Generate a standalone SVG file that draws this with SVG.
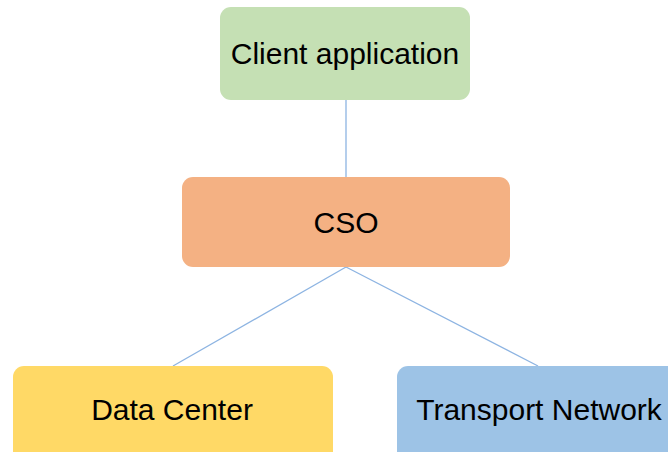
<svg xmlns="http://www.w3.org/2000/svg" width="668" height="452" viewBox="0 0 668 452">
<style>
.lbl{font-family:"Liberation Sans",Arial,sans-serif;font-size:30px;fill:#000;text-anchor:middle}
.edge{stroke:#8db4e2;stroke-width:1.3;fill:none}
</style>
<rect width="668" height="452" fill="#fff"/>
<g id="connectors">
<line class="edge" x1="346" y1="100" x2="346" y2="177"/>
<line class="edge" x1="346" y1="267" x2="173" y2="366"/>
<line class="edge" x1="346" y1="267" x2="538" y2="366"/>
</g>
<g id="client">
<rect x="220" y="7" width="250" height="93" rx="11" fill="#c5e0b4"/>
<text class="lbl" x="345" y="64">Client application</text>
</g>
<g id="cso">
<rect x="182" y="177" width="328" height="90" rx="11" fill="#f4b183"/>
<text class="lbl" x="346" y="233">CSO</text>
</g>
<g id="datacenter">
<rect x="13" y="366" width="320" height="100" rx="11" fill="#ffd966"/>
<text class="lbl" x="172" y="420">Data Center</text>
</g>
<g id="transport">
<rect x="397" y="366" width="290" height="100" rx="11" fill="#9dc3e6"/>
<text class="lbl" x="539" y="420">Transport Network</text>
</g>
</svg>
